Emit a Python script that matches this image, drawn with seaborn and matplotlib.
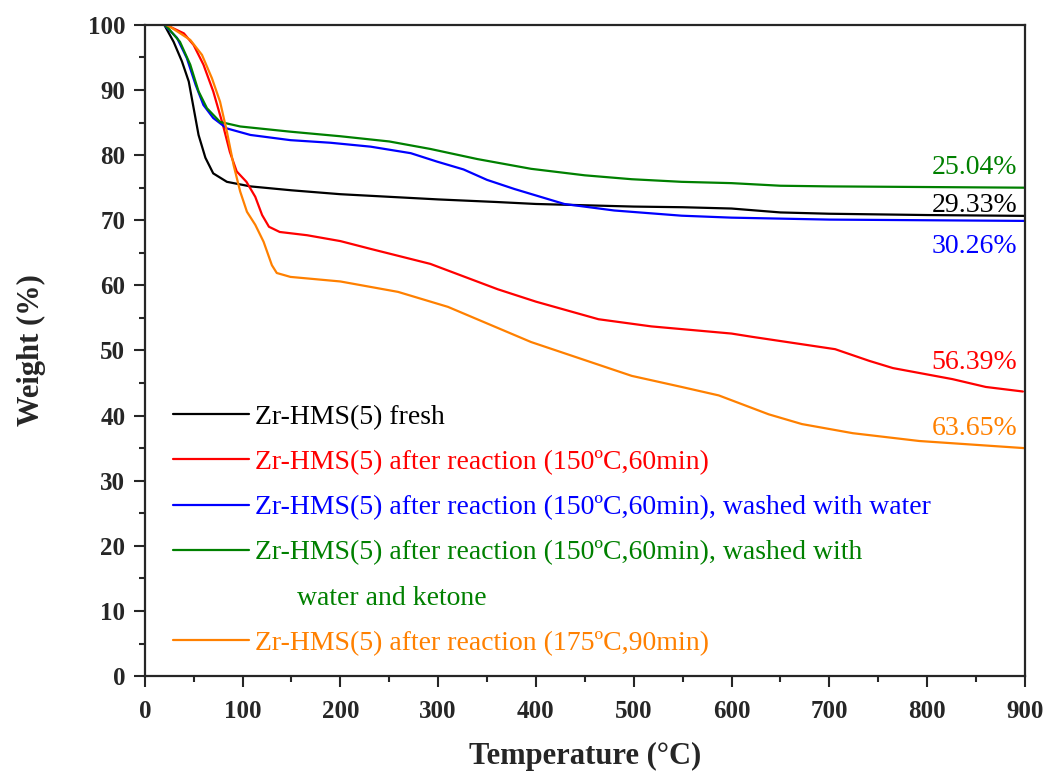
import matplotlib
matplotlib.use("Agg")
import matplotlib.pyplot as plt
from matplotlib.lines import Line2D
from matplotlib.ticker import MultipleLocator
import seaborn as sns
import pandas as pd

# ---------------- data ----------------
fresh_T = [20, 29.5, 38, 45, 50, 55, 62, 70, 84, 108, 150, 200, 250, 300, 360, 400,
           450, 500, 550, 600, 650, 700, 800, 900]
fresh_W = [100, 97.4, 94.4, 91.3, 87.2, 83.1, 79.6, 77.2, 75.9, 75.2, 74.6, 74.0, 73.6,
           73.2, 72.8, 72.5, 72.3, 72.1, 72.0, 71.8, 71.2, 71.0, 70.8, 70.67]

r150_T = [22, 26, 40, 50, 60, 70, 80, 87, 94, 104, 113, 120, 127, 138, 166, 200, 231,
          292, 361, 400, 464, 518, 600, 621, 706, 741, 765, 826, 860, 898]
r150_W = [100, 99.7, 98.7, 96.9, 93.9, 89.8, 84.6, 80.5, 77.5, 75.9, 73.6, 70.8, 69.0,
          68.2, 67.7, 66.8, 65.6, 63.3, 59.4, 57.5, 54.8, 53.7, 52.6, 52.1, 50.2, 48.4,
          47.3, 45.6, 44.4, 43.7]

water_T = [20, 33, 43, 52, 60, 70, 84, 108, 149, 190, 231, 272, 299, 326, 350, 378,
           429, 480, 549, 600, 700, 800, 900]
water_W = [100, 98, 94.9, 90.8, 87.7, 85.7, 84.1, 83.1, 82.3, 81.9, 81.3, 80.3, 79.0,
           77.8, 76.2, 74.8, 72.5, 71.5, 70.7, 70.4, 70.1, 70.0, 69.9]

ketone_T = [20, 24, 36, 46.5, 55, 63.6, 77, 97.6, 149, 200, 250, 292, 340, 395, 450,
            498, 549, 600, 650, 700, 900]
ketone_W = [100, 99.5, 97.4, 93.9, 89.8, 87.2, 85.1, 84.4, 83.6, 82.9, 82.1, 80.95,
            79.4, 77.9, 76.9, 76.3, 75.9, 75.7, 75.3, 75.2, 75.0]

r175_T = [22, 26, 46.5, 58.5, 68.7, 77, 84, 90.8, 97.6, 104.5, 113, 121.5, 130, 135,
          149, 200, 259, 310, 395, 498, 549, 587, 638, 672, 724, 792, 900]
r175_W = [100, 99.7, 97.7, 95.4, 91.8, 88.2, 83.6, 78.5, 74.4, 71.3, 69.3, 66.7, 63.1,
          61.9, 61.3, 60.6, 59.0, 56.7, 51.3, 46.1, 44.4, 43.1, 40.2, 38.7, 37.3, 36.1,
          35.0]

series_names = ["Zr-HMS(5) fresh",
                "Zr-HMS(5) after reaction (150ºC,60min)",
                "Zr-HMS(5) after reaction (150ºC,60min), washed with water",
                "Zr-HMS(5) after reaction (150ºC,60min), washed with",
                "Zr-HMS(5) after reaction (175ºC,90min)"]
series_T = [fresh_T, r150_T, water_T, ketone_T, r175_T]
series_W = [fresh_W, r150_W, water_W, ketone_W, r175_W]
colors = ["#000000", "#FF0000", "#0000FF", "#008000", "#FF8000"]
extra_line = "water and ketone"

loss_labels = ["29.33%", "56.39%", "30.26%", "25.04%", "63.65%"]
loss_y = [71.2, 47.2, 65.0, 77.1, 37.0]

x_ticks = [0, 100, 200, 300, 400, 500, 600, 700, 800, 900]
y_ticks = [0, 10, 20, 30, 40, 50, 60, 70, 80, 90, 100]

# ---------------- build long table ----------------
frames = []
for name, t, w in zip(series_names, series_T, series_W):
    frames.append(pd.DataFrame({"T": t, "W": w, "sample": name}))
df = pd.concat(frames, ignore_index=True)

sns.set_style("ticks")
plt.rcParams["font.family"] = ["Liberation Serif", "DejaVu Serif"]

fig = plt.figure(figsize=(10.49, 7.78), dpi=100)
ax = fig.add_axes([0.138, 0.131, 0.839, 0.837])

sns.lineplot(data=df, x="T", y="W", hue="sample", hue_order=series_names,
             palette=colors, sort=False, estimator=None, linewidth=1.6,
             legend=False, ax=ax)

ax.set_xlim(0, 900)
ax.set_ylim(0, 100)
ax.set_xticks(x_ticks)
ax.set_yticks(y_ticks)
ax.xaxis.set_minor_locator(MultipleLocator(50))
ax.yaxis.set_minor_locator(MultipleLocator(5))
ax.tick_params(axis="both", which="major", direction="out", length=8, width=1.5,
               labelsize=18)
ax.tick_params(axis="x", which="major", pad=9)
ax.tick_params(axis="y", which="major", pad=6)
ax.tick_params(axis="both", which="minor", direction="out", length=4.5, width=1.5)
for lab in ax.get_xticklabels() + ax.get_yticklabels():
    lab.set_fontweight("bold")
for sp in ax.spines.values():
    sp.set_linewidth(1.6)
    sp.set_visible(True)

ax.set_xlabel("Temperature (°C)", fontsize=22, fontweight="bold", labelpad=14)
ax.set_ylabel("Weight (%)", fontsize=22, fontweight="bold", labelpad=30)

# ---------------- legend ----------------
lines = ax.get_lines()[:len(series_names)]
handles = list(lines[:4]) + [Line2D([], [], color="none")] + [lines[4]]
labels = series_names[:4] + ["      " + extra_line] + [series_names[4]]
label_colors = colors[:4] + [colors[3]] + [colors[4]]
leg = ax.legend(handles, labels, loc="upper left", bbox_to_anchor=(0.032, 0.417),
                frameon=False, fontsize=20, handlelength=2.75, handletextpad=0.2,
                labelspacing=0.71, borderpad=0, borderaxespad=0)
for txt, c in zip(leg.get_texts(), label_colors):
    txt.set_color(c)

# ---------------- end-point annotations ----------------
for lab, yv, c in zip(loss_labels, loss_y, colors):
    ax.text(892, yv, lab, color=c, fontsize=20, ha="right", va="baseline")

fig.savefig("out.png", dpi=100)
